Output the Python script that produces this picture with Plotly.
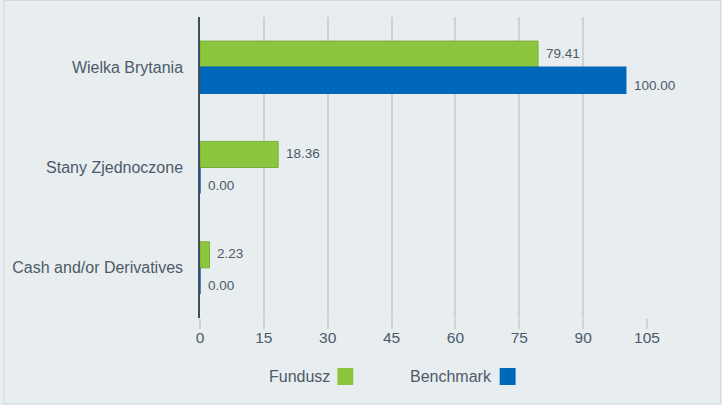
import plotly.graph_objects as go

categories = ["Wielka Brytania", "Stany Zjednoczone", "Cash and/or Derivatives"]
fundusz = [79.41, 18.36, 2.23]
benchmark = [100.00, 0.00, 0.00]
series_names = ["Fundusz", "Benchmark"]
tick_vals = [0, 15, 30, 45, 60, 75, 90, 105]

GREEN = "#8cc63f"
GREEN_EDGE = "#79ac38"
BLUE = "#0068b8"
BG = "#e8edf0"
TEXT = "#4d5b68"
GRID = "#cdd2d6"
FONT = "Liberation Sans, Arial"

fig = go.Figure()
fig.add_trace(go.Bar(
    y=categories, x=fundusz, name=series_names[0], orientation="h",
    marker=dict(color=GREEN, line=dict(color=GREEN_EDGE, width=1)),
))
fig.add_trace(go.Bar(
    y=categories, x=benchmark, name=series_names[1], orientation="h",
    marker=dict(color=BLUE, line=dict(color=BLUE, width=1.5)),
))

annotations = []
for cat, v in zip(categories, fundusz):
    annotations.append(dict(x=v, y=cat, xref="x", yref="y", text=f"{v:.2f}",
                            showarrow=False, xanchor="left", yanchor="middle",
                            xshift=6, yshift=14,
                            font=dict(family=FONT, size=13.5, color=TEXT)))
for cat, v in zip(categories, benchmark):
    annotations.append(dict(x=v, y=cat, xref="x", yref="y", text=f"{v:.2f}",
                            showarrow=False, xanchor="left", yanchor="middle",
                            xshift=6, yshift=-18,
                            font=dict(family=FONT, size=13.5, color=TEXT)))

# custom legend (text followed by a swatch)
annotations.append(dict(x=0.2962, y=-0.1927, xref="paper", yref="paper", text=series_names[0],
                        showarrow=False, xanchor="right", yanchor="middle",
                        font=dict(family=FONT, size=16, color=TEXT)))
annotations.append(dict(x=0.657, y=-0.1927, xref="paper", yref="paper", text=series_names[1],
                        showarrow=False, xanchor="right", yanchor="middle",
                        font=dict(family=FONT, size=16, color=TEXT)))

shapes = [
    dict(type="rect", xref="paper", yref="paper", x0=0.3073, x1=0.343, y0=-0.2226, y1=-0.1661,
         fillcolor=GREEN, line=dict(width=0)),
    dict(type="rect", xref="paper", yref="paper", x0=0.6704, x1=0.706, y0=-0.2226, y1=-0.1661,
         fillcolor=BLUE, line=dict(width=0)),
    dict(type="rect", xref="paper", yref="paper", x0=-0.4388, x1=1.1648, y0=-0.2857, y1=1.0548,
         fillcolor="rgba(0,0,0,0)", line=dict(color="#d3d8dc", width=1), layer="below"),
]

fig.update_layout(
    width=722, height=405,
    margin=dict(l=197, r=75, t=17, b=87),
    paper_bgcolor=BG, plot_bgcolor=BG,
    barmode="group", bargap=0.48, bargroupgap=0,
    showlegend=False,
    annotations=annotations,
    shapes=shapes,
    font=dict(family=FONT, color=TEXT),
    xaxis=dict(range=[0, 105], tickvals=tick_vals, showgrid=True, gridcolor=GRID, gridwidth=1.5,
               zeroline=False, showline=False, ticks="outside", ticklen=10, tickcolor=GRID,
               tickwidth=1.5, tickfont=dict(size=15.5, color=TEXT), ticklabelstandoff=-5),
    yaxis=dict(autorange="reversed", showline=True, linecolor="#3f4d5c", linewidth=1.5,
               showgrid=False, zeroline=False, ticks="", tickfont=dict(size=16, color=TEXT),
               ticklabelstandoff=12),
)

fig.write_html("out.html", config={"displayModeBar": False},
               post_script="document.body.style.margin='0';document.body.style.background='#e8edf0';")
